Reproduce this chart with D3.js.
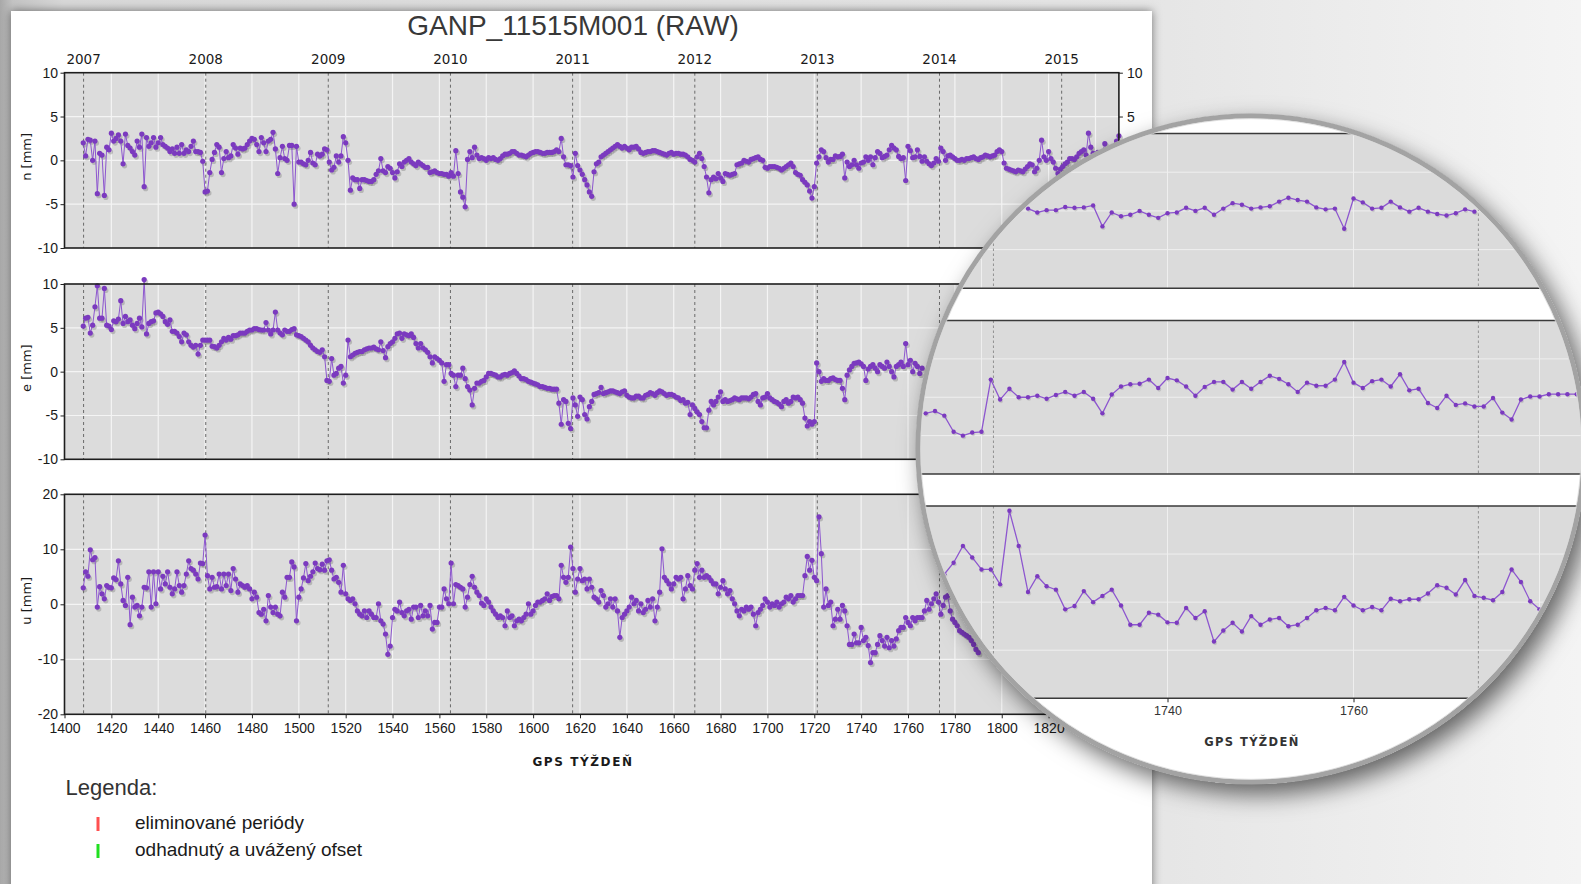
<!DOCTYPE html>
<html lang="sk">
<head>
<meta charset="utf-8">
<title>GANP_11515M001 (RAW)</title>
<script src="https://cdn.jsdelivr.net/npm/d3@7/dist/d3.min.js"></script>
<style>
  html, body { margin:0; padding:0; overflow:hidden; background:#e8e8e8; }
  svg { display:block; }
</style>
</head>
<body>
<svg id="chart" width="1581" height="884"></svg>
<script>
// ---------------- data ----------------
const chartTitle = "GANP_11515M001 (RAW)";
const xAxisTitle = "GPS TÝŽDEŇ";
const componentLabels = ["n [mm]", "e [mm]", "u [mm]"];
const years = [2007, 2008, 2009, 2010, 2011, 2012, 2013, 2014, 2015];
const weekTicks = [1400,1420,1440,1460,1480,1500,1520,1540,1560,1580,1600,1620,1640,1660,1680,1700,1720,1740,1760,1780,1800,1820,1840];
const nTicks = [-10, -5, 0, 5, 10];
const eTicks = [-10, -5, 0, 5, 10];
const uTicks = [-20, -10, 0, 10, 20];
const legendTitle = "Legenda:";
const legendLabels = ["eliminované periódy", "odhadnutý a uvážený ofset"];
const legendColors = ["#ff5050", "#20e020"];

// weekly solutions, GPS week 1408 onwards
const firstWeekN = 1408;
const nValues = [
 2.0,0.5,2.4,2.3,0.0,2.2,-3.8,0.8,0.6,-4.0,
 1.5,1.2,3.1,2.2,2.5,2.9,2.2,-0.4,3.0,1.7,
 1.4,1.0,0.6,2.2,1.5,3.0,-3.0,2.6,1.6,2.0,
 2.6,1.5,2.0,2.6,1.8,1.6,1.4,1.0,1.3,0.8,
 1.5,0.8,1.8,0.8,1.2,1.0,1.6,2.2,1.0,1.0,
 0.9,-0.1,-3.6,-3.5,-1.4,0.1,0.9,1.8,1.5,-1.4,
 0.2,1.0,0.3,0.5,1.8,1.4,0.7,1.4,1.3,1.4,
 1.8,2.2,2.5,2.4,1.8,1.0,2.6,2.0,1.0,2.2,
 2.4,3.2,1.3,-1.5,0.3,1.6,0.2,0.0,1.7,1.7,
 -5.0,1.6,-0.2,-0.2,-0.4,-0.5,0.0,0.9,-0.3,-0.5,
 0.7,0.5,0.7,1.3,1.2,-0.2,-1.1,-0.8,0.5,-0.2,
 0.5,2.7,2.0,0.0,-3.4,-2.0,-2.2,-2.2,-3.2,-2.2,
 -2.2,-2.3,-2.4,-2.4,-2.2,-1.6,-1.2,0.2,-1.2,-1.4,
 -0.7,-0.9,-1.4,-2.0,-1.3,-0.4,-0.7,-0.2,0.0,0.2,
 -0.2,-0.4,-0.6,-0.2,-0.4,-0.6,-0.8,-0.8,-1.4,-1.3,
 -1.2,-1.4,-1.5,-1.5,-1.6,-1.6,-1.8,-1.4,-1.8,1.1,
 -1.5,-3.6,-4.2,-5.3,0.1,1.0,0.3,1.5,0.6,0.2,
 0.3,0.2,0.0,0.3,0.2,0.3,0.1,0.0,0.2,0.5,
 0.7,0.7,0.8,1.0,1.0,0.8,0.6,0.6,0.5,0.4,
 0.6,0.8,0.9,1.0,1.0,0.9,0.8,0.8,0.9,0.9,
 0.9,1.0,1.2,1.0,2.5,0.4,-0.5,-0.5,-0.6,-1.9,
 0.8,-0.6,-1.1,-1.6,-2.2,-2.8,-3.6,-4.1,-1.3,-0.4,
 -0.2,0.4,0.6,0.8,1.0,1.2,1.4,1.6,1.8,1.6,
 1.4,1.6,1.4,1.2,1.5,1.5,1.6,1.3,0.9,0.8,
 0.9,1.0,1.0,1.1,1.1,1.0,0.9,0.8,0.7,0.6,
 0.8,0.9,0.7,0.8,0.8,0.7,0.7,0.6,0.4,0.1,
 0.0,-0.2,0.4,0.8,0.2,-0.7,-1.9,-3.7,-2.2,-1.9,
 -2.1,-1.5,-2.0,-2.4,-1.5,-1.6,-1.7,-1.6,-1.5,-0.5,
 -0.4,-0.3,0.0,-0.1,-0.2,0.1,0.2,0.3,0.4,0.1,
 0.0,-0.8,-0.9,-0.7,-0.7,-0.7,-0.8,-0.9,-1.1,-0.9,
 -0.7,-0.5,-0.3,-0.7,-1.4,-1.6,-1.7,-2.2,-2.5,-2.8,
 -3.5,-4.3,-3.0,-0.3,0.4,1.2,1.0,0.3,-0.2,0.1,
 0.1,0.5,0.4,0.45,0.7,-2.0,-0.2,-0.7,-0.5,0.0,
 -0.5,-0.9,-0.3,-0.2,0.4,0.0,0.4,-0.5,0.3,1.0,
 0.8,0.3,0.45,0.6,1.2,1.7,1.4,1.2,0.45,0.2,
 0.3,-2.3,1.6,1.1,0.3,0.4,1.2,0.45,-0.1,0.4,
 -0.1,-0.4,-0.6,-0.3,0.2,-0.1,1.4,1.0,0.0,0.5,
 0.6,0.4,0.2,0.0,0.0,0.1,0.0,0.2,0.2,0.3,
 0.4,0.2,0.1,0.3,0.4,0.6,0.5,0.4,0.5,0.6,
 1.0,1.2,1.0,-0.3,-0.9,-1.0,-1.1,-1.2,-1.3,-1.1,
 -1.2,-1.3,-1.0,-0.7,-0.4,-0.5,-1.3,-0.9,0.0,2.3,
 0.4,0.0,1.0,0.2,-0.2,-0.9,-1.5,-1.0,-0.7,-0.4,
 -0.2,0.2,0.2,0.1,0.4,0.8,1.0,1.2,0.6,3.1,
 1.5,0.8,0.6,0.9,0.5,0.8,1.9,1.0,0.9,1.2,
 1.6,2.2,2.8
];

const firstWeekE = 1408;
const eValues = [
 5.2,6.1,6.2,4.4,5.3,7.4,9.8,6.1,6.1,9.5,
 5.3,5.2,4.8,5.8,5.7,6.0,8.1,5.5,6.3,5.7,
 5.9,5.3,4.9,5.5,6.1,5.1,10.5,4.3,5.5,5.7,
 5.8,6.7,6.8,6.6,6.3,5.7,5.4,5.9,4.6,4.6,
 4.4,4.0,3.4,4.4,4.2,3.4,3.0,2.8,3.0,2.0,
 3.0,3.6,3.6,3.6,3.6,2.9,2.85,2.7,3.0,3.4,
 3.8,3.6,3.9,3.7,4.1,4.1,4.2,4.4,4.4,4.4,
 4.6,4.75,4.75,4.9,4.9,4.8,4.75,4.75,5.6,4.75,
 4.3,4.75,6.8,4.75,4.4,4.2,4.75,4.6,4.6,4.8,
 4.9,4.2,4.1,4.0,3.8,3.6,3.4,3.0,2.7,2.5,
 2.3,2.2,2.5,1.7,-1.0,-1.1,1.5,-0.4,-0.2,0.4,
 0.6,-1.3,-0.4,3.6,1.7,1.9,2.1,2.2,2.3,2.3,
 2.5,2.6,2.7,2.7,2.8,2.6,2.5,3.4,2.4,1.6,
 2.85,3.2,3.4,3.8,4.3,4.4,3.8,4.3,4.2,4.1,
 4.3,3.9,3.2,2.7,3.2,2.7,2.5,2.2,1.7,1.0,
 1.7,1.5,1.3,1.0,-1.1,0.8,0.8,-0.2,-0.4,-1.7,
 -0.4,-0.4,0.4,-0.8,-1.7,-2.1,-3.8,-1.9,-1.3,-1.3,
 -1.1,-1.0,-0.6,-0.2,-0.2,-0.3,-0.4,-0.6,-0.6,-0.4,
 -0.3,-0.4,-0.2,-0.1,0.1,-0.2,-0.5,-0.8,-0.8,-0.9,
 -1.1,-1.2,-1.3,-1.4,-1.5,-1.7,-1.7,-1.8,-1.9,-1.9,
 -2.0,-2.0,-2.0,-3.6,-6.0,-3.2,-3.4,-5.9,-6.5,-3.0,
 -3.8,-5.1,-2.9,-3.2,-4.9,-5.4,-4.0,-3.4,-2.6,-2.5,
 -2.4,-1.8,-2.5,-2.4,-2.3,-2.2,-2.2,-2.3,-2.4,-2.5,
 -2.3,-2.2,-2.7,-2.9,-3.0,-3.0,-2.8,-2.8,-3.0,-3.0,
 -2.7,-2.6,-2.4,-2.5,-2.7,-2.4,-2.2,-2.3,-2.5,-2.7,
 -2.6,-2.6,-2.7,-2.9,-3.0,-3.3,-3.2,-3.6,-3.5,-4.9,
 -3.8,-4.2,-4.6,-4.9,-5.7,-6.4,-6.4,-4.4,-3.4,-3.8,
 -3.4,-2.9,-2.3,-3.4,-3.2,-3.4,-3.3,-3.2,-3.0,-3.1,
 -3.2,-3.0,-3.0,-3.0,-3.1,-2.9,-2.6,-2.5,-3.4,-3.8,
 -3.0,-2.9,-2.5,-3.0,-3.2,-3.4,-3.5,-3.7,-4.0,-3.4,
 -3.2,-3.6,-3.4,-2.9,-3.0,-2.9,-3.2,-3.6,-5.3,-6.2,
 -5.7,-6.0,-5.7,1.0,0.0,-1.1,-0.8,-1.0,-1.0,-0.8,
 -0.7,-0.9,-1.0,-1.0,-1.9,-3.2,-0.4,0.2,0.6,0.95,
 1.0,1.1,0.9,0.6,-1.0,0.3,0.6,0.8,0.4,0.0,
 0.8,0.6,0.4,1.1,0.6,0.0,-0.6,0.6,0.8,1.1,
 0.6,3.2,0.8,1.3,0.0,0.95,0.6,-0.2,0.4
];

const firstWeekU = 1408;
const uValues = [
 3.0,5.9,5.1,9.9,8.1,8.5,-0.5,3.2,1.9,1.0,
 3.4,3.1,3.0,4.8,4.5,7.9,3.7,0.7,-0.2,4.9,
 -3.7,1.3,-0.5,-0.2,-2.1,-0.5,3.1,3.0,5.9,-0.5,
 5.9,0.1,5.9,2.8,5.1,3.7,5.9,3.1,1.9,2.8,
 5.9,3.4,2.2,3.4,5.5,7.9,6.5,6.2,5.5,4.6,
 7.5,7.4,12.6,5.2,2.8,4.9,3.1,3.2,5.5,2.8,
 5.5,3.4,5.5,2.5,6.5,4.6,2.2,3.7,3.4,3.1,
 3.4,2.8,1.0,2.2,1.3,-1.5,-1.8,-0.9,-3.0,1.6,
 -0.5,-1.5,-0.5,-1.8,-2.1,2.2,1.3,4.9,4.9,7.7,
 6.8,-3.0,1.3,2.8,4.8,7.4,4.3,5.1,5.9,7.5,
 6.5,6.3,7.3,6.2,7.9,8.1,6.2,4.6,4.9,4.0,
 2.2,7.1,1.9,1.0,0.7,1.0,0.1,-1.2,-1.8,-2.1,
 -1.2,-2.4,-1.2,-1.8,-2.4,-2.4,0.1,-3.0,-3.6,-5.4,
 -9.1,-7.6,-2.4,-0.9,-1.2,0.4,-1.5,-2.1,-1.2,-0.9,
 -2.7,-0.5,-0.5,-2.4,-0.2,-2.1,-1.2,-2.1,-0.2,-4.5,
 -3.3,-3.3,-0.5,-0.5,2.8,1.0,0.1,7.5,0.1,3.6,
 3.4,3.1,2.8,-0.5,1.3,3.6,5.1,3.1,2.2,1.6,
 0.2,-0.2,1.0,0.4,-0.5,-1.2,-1.8,-2.4,-2.1,-2.4,
 -3.9,-1.2,-2.4,-2.1,-3.9,-3.0,-2.7,-3.0,-2.4,-1.8,
 0.1,-1.8,-1.2,-0.2,0.4,0.4,0.7,1.0,1.9,0.7,
 1.4,1.6,1.6,1.0,7.1,4.9,4.0,4.9,10.4,6.5,
 2.2,4.6,6.5,4.3,4.6,2.8,4.6,3.1,1.3,1.0,
 0.4,2.5,1.6,-0.5,0.1,1.0,-0.5,1.0,-1.2,-6.0,
 -2.4,-1.8,-1.2,-0.5,1.3,0.1,0.7,-1.2,0.1,-1.5,
 -0.9,0.7,-0.5,1.0,-3.0,-0.5,2.2,10.1,4.9,4.3,
 3.7,2.8,3.7,4.9,4.6,4.9,1.0,2.8,5.2,3.4,
 2.8,6.2,7.4,4.9,6.2,4.9,5.2,4.9,4.3,3.7,
 3.7,1.9,3.1,4.3,2.8,1.9,2.5,1.0,0.1,-1.2,
 -2.1,-0.9,-1.2,-0.5,-0.9,-0.5,-1.8,-3.9,-1.5,-0.9,
 -0.2,1.0,0.4,-0.5,0.1,-0.2,0.4,-0.5,0.1,0.4,
 1.3,1.0,1.6,0.4,1.0,1.6,1.6,1.6,5.2,8.7,
 6.2,8.0,4.9,4.3,15.9,9.2,-0.5,2.8,-0.2,0.4,
 -3.9,-2.7,-0.9,-2.7,-0.2,-1.2,-3.9,-7.3,-7.3,-5.4,
 -7.0,-7.0,-4.2,-6.6,-6.0,-7.5,-10.6,-8.8,-8.8,-7.3,
 -5.7,-6.6,-7.6,-6.0,-7.9,-6.6,-7.6,-6.3,-4.8,-4.2,
 -4.2,-2.4,-3.3,-3.9,-2.4,-3.0,-2.4,-2.4,-2.4,-1.2,
 0.7,-0.9,0.1,1.0,1.9,0.4,-1.8,-0.2,1.3,1.6,
 -1.2,-2.7,-3.3,-3.9,-4.8,-5.1,-5.4,-5.7,-6.0,-6.6,
 -7.3,-8.2,-8.8
];

// magnified inset (as drawn in the lens)
const insetTicks = [1720, 1740, 1760, 1780];
const insetFirstN = 1725;
const insetN = [
 0.3,-0.2,0.1,0.1,0.5,0.4,0.45,0.7,-2.0,-0.2,
 -0.7,-0.5,0.0,-0.5,-0.9,-0.3,-0.2,0.4,0.0,0.4,
 -0.5,0.3,1.0,0.8,0.3,0.45,0.6,1.2,1.7,1.4,
 1.2,0.45,0.2,0.3,-2.3,1.6,1.1,0.3,0.4,1.2,
 0.45,-0.1,0.4,-0.1,-0.4,-0.6,-0.3,0.2,-0.1
];
const insetFirstE = 1714;
const insetE = [
 -2.1,-1.8,-2.4,-4.5,-5.0,-4.6,-4.5,2.3,-0.3,1.1,
 0.0,0.0,0.2,-0.2,0.3,0.7,0.2,0.7,-0.2,-2.1,
 0.35,1.4,1.7,1.75,2.3,1.2,2.5,2.2,1.4,0.2,
 1.35,2.0,2.0,1.0,2.0,1.1,2.0,2.8,2.4,1.7,
 0.7,1.9,1.5,1.5,2.3,4.6,1.9,1.2,2.1,2.3,
 1.4,3.0,0.9,1.1,-0.75,-1.4,0.2,-1.0,-0.8,-1.2,
 -1.2,-0.1,-2.0,-2.9,-0.3,0.1,0.1,0.4,0.4,0.4,
 0.4
];
const insetFirstU = 1716;
const insetU = [
 5.8,8.2,11.7,9.3,6.8,6.8,3.7,19.0,11.7,2.1,
 5.4,3.3,2.6,-1.5,-0.8,2.3,0.0,1.3,2.6,-0.7,
 -4.7,-4.7,-2.2,-2.6,-4.2,-4.3,-1.2,-3.3,-1.9,-8.2,
 -5.9,-4.3,-6.1,-2.9,-4.7,-3.6,-3.3,-5.0,-4.7,-3.3,
 -1.7,-1.2,-1.7,1.1,-0.7,-1.7,-1.0,-1.7,0.7,0.2,
 0.6,0.6,1.8,3.5,3.0,1.6,4.6,1.3,0.9,0.4,
 2.1,6.8,4.2,0.2,-1.5
];

// ---------------- drawing ----------------
const W = 1581, H = 884;
const SANS = "'Liberation Sans', Arial, sans-serif";
const DEJA = "'DejaVu Sans', Verdana, sans-serif";
const MARK = "#7b3abf", LINEC = "#8d56cf";

const gpsWeek = y => (Date.UTC(y, 0, 1) - Date.UTC(1980, 0, 6)) / 6048e5;
const yearWeeks = years.map(gpsWeek);
const series = (vals, first) => vals.map((v, i) => ({ w: first + i, v }));

const svg = d3.select("#chart");
const defs = svg.append("defs");

const bgGrad = defs.append("linearGradient").attr("id", "bgGrad")
  .attr("x1", 0).attr("x2", 1).attr("y1", 0).attr("y2", 0);
[[0, "#a8a8a8"], [0.008, "#c4c4c4"], [0.04, "#d8d8d8"], [0.72, "#e5e5e5"], [1, "#f4f4f4"]]
  .forEach(([o, c]) => bgGrad.append("stop").attr("offset", o).attr("stop-color", c));

const fCard = defs.append("filter").attr("id", "cardShadow")
  .attr("x", -0.05).attr("y", -0.05).attr("width", 1.1).attr("height", 1.1);
fCard.append("feDropShadow").attr("dx", 0).attr("dy", 0).attr("stdDeviation", 5)
  .attr("flood-color", "#000").attr("flood-opacity", 0.5);

const fMag = defs.append("filter").attr("id", "magShadow")
  .attr("x", -0.2).attr("y", -0.2).attr("width", 1.4).attr("height", 1.4);
fMag.append("feDropShadow").attr("dx", 8).attr("dy", 10).attr("stdDeviation", 12)
  .attr("flood-color", "#000").attr("flood-opacity", 0.6);

const LX = 1251, LY = 449;
defs.append("clipPath").attr("id", "magClip")
  .append("circle").attr("cx", LX).attr("cy", LY).attr("r", 331);

svg.append("rect").attr("width", W).attr("height", H).attr("fill", "url(#bgGrad)");
svg.append("rect").attr("x", 11).attr("y", 11).attr("width", 1141).attr("height", H + 40)
  .attr("fill", "#fff").attr("filter", "url(#cardShadow)");

// ---- main chart ----
const x = d3.scaleLinear().domain([1400, 1850]).range([64.5, 1118.9]);
const panels = [
  { label: componentLabels[0], data: series(nValues, firstWeekN), ticks: nTicks,
    y: d3.scaleLinear().domain([-10, 10]).range([248, 72.7]) },
  { label: componentLabels[1], data: series(eValues, firstWeekE), ticks: eTicks,
    y: d3.scaleLinear().domain([-10, 10]).range([459.3, 284]) },
  { label: componentLabels[2], data: series(uValues, firstWeekU), ticks: uTicks,
    y: d3.scaleLinear().domain([-20, 20]).range([714.3, 494.3]) }
];

const main = svg.append("g");
main.append("text").attr("x", 573).attr("y", 35).attr("text-anchor", "middle")
  .attr("font-family", SANS).attr("font-size", 28).attr("fill", "#383838").text(chartTitle);

main.append("g").selectAll("text").data(years).join("text")
  .attr("x", (d, i) => x(yearWeeks[i])).attr("y", 63.5).attr("text-anchor", "middle")
  .attr("font-family", DEJA).attr("font-size", 13.5).attr("fill", "#1a1a1a").text(d => d);

function styleAxis(g, size) {
  g.attr("font-family", SANS).attr("font-size", size);
  g.select(".domain").remove();
  g.selectAll(".tick line").attr("stroke", "#222");
  g.selectAll(".tick text").attr("fill", "#1a1a1a");
}

const [X0, X1] = x.range();
panels.forEach((p, pi) => {
  const g = main.append("g");
  const [yb, yt] = p.y.range();
  g.append("rect").attr("x", X0).attr("y", yt).attr("width", X1 - X0).attr("height", yb - yt)
    .attr("fill", "#dcdcdc");
  g.append("g").selectAll("line").data(weekTicks.slice(1)).join("line")
    .attr("x1", d => x(d)).attr("x2", d => x(d)).attr("y1", yt).attr("y2", yb)
    .attr("stroke", "#f4f4f4").attr("stroke-width", 1.2);
  g.append("g").selectAll("line").data(p.ticks.slice(1, -1)).join("line")
    .attr("x1", X0).attr("x2", X1).attr("y1", d => p.y(d)).attr("y2", d => p.y(d))
    .attr("stroke", "#f4f4f4").attr("stroke-width", 1.2);
  g.append("g").selectAll("line").data(yearWeeks).join("line")
    .attr("x1", d => x(d)).attr("x2", d => x(d)).attr("y1", yt).attr("y2", yb)
    .attr("stroke", "#6a6a6a").attr("stroke-dasharray", "3,3");

  g.append("g").selectAll("circle").data(p.data).join("circle")
    .attr("cx", d => x(d.w) + 1.5).attr("cy", d => p.y(d.v) + 2).attr("r", 2.6)
    .attr("fill", "#555").attr("opacity", 0.28);
  const line = d3.line().x(d => x(d.w)).y(d => p.y(d.v));
  g.append("path").datum(p.data).attr("d", line).attr("fill", "none")
    .attr("stroke", LINEC).attr("stroke-width", 1);
  g.append("g").selectAll("circle").data(p.data).join("circle")
    .attr("cx", d => x(d.w)).attr("cy", d => p.y(d.v)).attr("r", 2.6).attr("fill", MARK);

  g.append("rect").attr("x", X0).attr("y", yt).attr("width", X1 - X0).attr("height", yb - yt)
    .attr("fill", "none").attr("stroke", "#1e1e1e").attr("stroke-width", 1.6);

  const fmt = d => String(d);
  const la = g.append("g").attr("transform", `translate(${X0},0)`)
    .call(d3.axisLeft(p.y).tickValues(p.ticks).tickSize(4).tickPadding(2.5).tickFormat(fmt));
  styleAxis(la, 14);
  const ra = g.append("g").attr("transform", `translate(${X1},0)`)
    .call(d3.axisRight(p.y).tickValues(p.ticks).tickSize(4).tickPadding(4).tickFormat(fmt));
  styleAxis(ra, 14);

  g.append("text").attr("transform", `translate(30.5,${(yb + yt) / 2 - 3.5}) rotate(-90)`)
    .attr("text-anchor", "middle").attr("font-family", DEJA).attr("font-size", 13)
    .attr("fill", "#1a1a1a").text(p.label);

  if (pi === panels.length - 1) {
    const ba = g.append("g").attr("transform", `translate(0,${yb})`)
      .call(d3.axisBottom(x).tickValues(weekTicks).tickSize(4).tickPadding(5).tickFormat(fmt));
    styleAxis(ba, 14);
  }
});

main.append("text").attr("x", 583).attr("y", 766).attr("text-anchor", "middle")
  .attr("font-family", DEJA).attr("font-weight", "bold").attr("font-size", 12)
  .attr("letter-spacing", 1.6).attr("fill", "#1a1a1a").text(xAxisTitle);

// legend
main.append("text").attr("x", 65.5).attr("y", 794.5).attr("font-family", SANS)
  .attr("font-size", 22).attr("fill", "#333").text(legendTitle);
const lg = main.append("g").selectAll("g").data(legendLabels).join("g")
  .attr("transform", (d, i) => `translate(0,${i * 27})`);
lg.append("rect").attr("x", 96.5).attr("y", 817).attr("width", 3).attr("height", 14)
  .attr("fill", (d, i) => legendColors[i]);
lg.append("text").attr("x", 135).attr("y", 829).attr("font-family", SANS)
  .attr("font-size", 19).attr("fill", "#1a1a1a").text(d => d);

// ---- magnifier lens ----
const mag = svg.append("g");
mag.append("circle").attr("cx", LX).attr("cy", LY).attr("r", 335).attr("fill", "#fff")
  .attr("filter", "url(#magShadow)");
const mc = mag.append("g").attr("clip-path", "url(#magClip)");
mc.append("rect").attr("x", 900).attr("y", 100).attr("width", 700).attr("height", 700).attr("fill", "#fff");

const mx = d3.scaleLinear().domain([1740, 1760]).range([1167.5, 1353.5]);
const MX0 = 880, MX1 = 1620;
const insetPanels = [
  { data: series(insetN, insetFirstN), ticks: nTicks, y: d3.scaleLinear().domain([-10, 10]).range([288.3, 133.5]) },
  { data: series(insetE, insetFirstE), ticks: eTicks, y: d3.scaleLinear().domain([-10, 10]).range([474, 320.5]) },
  { data: series(insetU, insetFirstU), ticks: uTicks, y: d3.scaleLinear().domain([-20, 20]).range([698.3, 506]) }
];
const insetYears = yearWeeks.filter(w => w > 1700 && w < 1800);
insetPanels.forEach((p, pi) => {
  const g = mc.append("g");
  const [yb, yt] = p.y.range();
  g.append("rect").attr("x", MX0).attr("y", yt).attr("width", MX1 - MX0).attr("height", yb - yt)
    .attr("fill", "#dbdbdb");
  g.append("g").selectAll("line").data(insetTicks).join("line")
    .attr("x1", d => mx(d)).attr("x2", d => mx(d)).attr("y1", yt).attr("y2", yb)
    .attr("stroke", "#efefef").attr("stroke-width", 1);
  g.append("g").selectAll("line").data(p.ticks.slice(1, -1)).join("line")
    .attr("x1", MX0).attr("x2", MX1).attr("y1", d => p.y(d)).attr("y2", d => p.y(d))
    .attr("stroke", "#efefef").attr("stroke-width", 1);
  g.append("g").selectAll("line").data(insetYears).join("line")
    .attr("x1", d => mx(d)).attr("x2", d => mx(d)).attr("y1", yt).attr("y2", yb)
    .attr("stroke", "#8a8a8a").attr("stroke-dasharray", "2.5,2.5").attr("stroke-width", 0.9);

  const line = d3.line().x(d => mx(d.w)).y(d => p.y(d.v));
  g.append("g").selectAll("circle").data(p.data).join("circle")
    .attr("cx", d => mx(d.w) + 1).attr("cy", d => p.y(d.v) + 1.5).attr("r", 2.1)
    .attr("fill", "#666").attr("opacity", 0.2);
  g.append("path").datum(p.data).attr("d", line).attr("fill", "none")
    .attr("stroke", LINEC).attr("stroke-width", 1.3);
  g.append("g").selectAll("circle").data(p.data).join("circle")
    .attr("cx", d => mx(d.w)).attr("cy", d => p.y(d.v)).attr("r", 2.2).attr("fill", MARK);

  g.append("line").attr("x1", MX0).attr("x2", MX1).attr("y1", yt).attr("y2", yt)
    .attr("stroke", "#3a3a3a").attr("stroke-width", 1.5);
  g.append("line").attr("x1", MX0).attr("x2", MX1).attr("y1", yb).attr("y2", yb)
    .attr("stroke", "#3a3a3a").attr("stroke-width", 1.5);

  if (pi === insetPanels.length - 1) {
    const ba = g.append("g").attr("transform", `translate(0,${yb})`)
      .call(d3.axisBottom(mx).tickValues(insetTicks).tickSize(4).tickPadding(4).tickFormat(d => String(d)));
    styleAxis(ba, 12.5);
    ba.selectAll(".tick text").attr("fill", "#333");
  }
});
mc.append("text").attr("x", 1252).attr("y", 746).attr("text-anchor", "middle")
  .attr("font-family", DEJA).attr("font-weight", "bold").attr("font-size", 11.5)
  .attr("letter-spacing", 1.4).attr("fill", "#333").text(xAxisTitle);

mag.append("circle").attr("cx", LX).attr("cy", LY).attr("r", 333).attr("fill", "none")
  .attr("stroke", "#a3a3a3").attr("stroke-width", 5);
mag.append("circle").attr("cx", LX).attr("cy", LY).attr("r", 330.3).attr("fill", "none")
  .attr("stroke", "#dcdcdc").attr("stroke-width", 0.8);
</script>
</body>
</html>
